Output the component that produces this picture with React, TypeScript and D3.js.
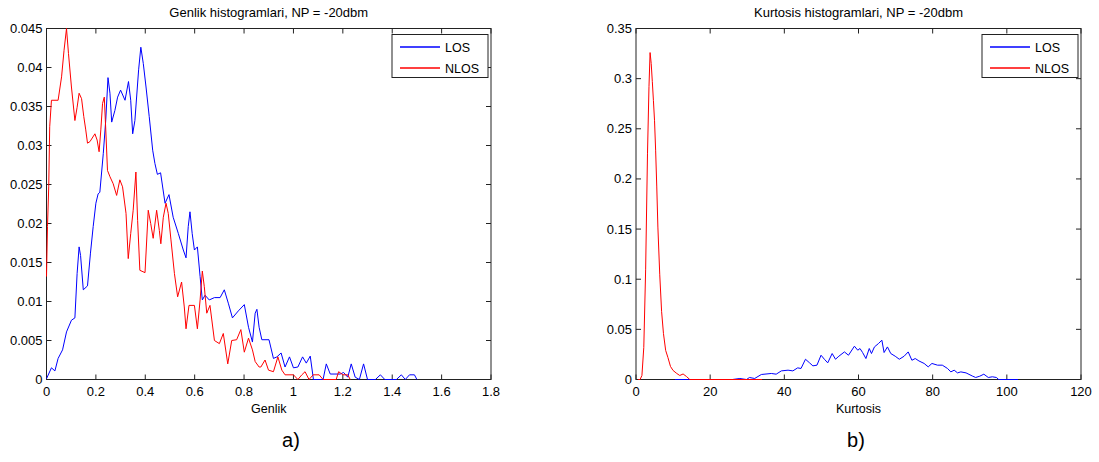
import React from "react";
import * as d3 from "d3";

// ---------- data ----------
const genlikLosX = [0,0.02,0.034,0.047,0.065,0.081,0.101,0.115,0.124,0.132,0.138,0.149,0.166,0.178,0.189,0.2,0.209,0.216,0.23,0.24,0.249,0.257,0.264,0.277,0.288,0.3,0.318,0.332,0.341,0.349,0.358,0.373,0.382,0.392,0.403,0.416,0.43,0.439,0.449,0.462,0.48,0.496,0.513,0.534,0.554,0.565,0.574,0.581,0.59,0.599,0.611,0.622,0.631,0.642,0.659,0.68,0.703,0.72,0.737,0.753,0.777,0.801,0.818,0.834,0.845,0.852,0.861,0.872,0.901,0.919,0.933,0.95,0.966,0.984,1.0,1.018,1.037,1.052,1.068,1.081,1.12,1.133,1.149,1.19,1.203,1.22,1.234,1.25,1.267,1.284,1.3,1.332,1.352,1.37,1.417,1.437,1.453,1.47,1.49,1.5];
const genlikLosY = [0.0001,0.0015,0.0011,0.0027,0.0038,0.0061,0.0076,0.0079,0.0136,0.017,0.0159,0.0115,0.012,0.0162,0.0196,0.0226,0.0238,0.024,0.029,0.0333,0.0387,0.0367,0.033,0.0345,0.0362,0.0371,0.0358,0.0382,0.0358,0.0315,0.0332,0.0397,0.0426,0.0405,0.0375,0.0337,0.0294,0.0277,0.0263,0.0265,0.0226,0.0237,0.0208,0.0187,0.0166,0.0156,0.0196,0.0215,0.0187,0.0166,0.017,0.0132,0.0102,0.0108,0.0102,0.0105,0.0105,0.0115,0.0097,0.0079,0.0088,0.0096,0.0067,0.0048,0.0085,0.009,0.0067,0.0051,0.0051,0.0027,0.0029,0.0034,0.0016,0.0029,0.0015,0.0016,0.0029,0.0021,0.003,0,0,0.002,0.0007,0.0007,0.0009,0.0003,0.002,0.0003,0,0.002,0,0,0.0006,0,0,0.0006,0,0.0006,0.0006,0];

const genlikNlosX = [0,0.004,0.009,0.013,0.02,0.047,0.061,0.071,0.081,0.089,0.101,0.115,0.124,0.132,0.142,0.151,0.159,0.166,0.176,0.196,0.205,0.213,0.22,0.227,0.234,0.24,0.247,0.257,0.27,0.284,0.297,0.308,0.322,0.331,0.341,0.351,0.362,0.369,0.378,0.399,0.412,0.422,0.432,0.446,0.457,0.463,0.473,0.484,0.493,0.504,0.518,0.531,0.547,0.558,0.565,0.577,0.599,0.611,0.622,0.631,0.639,0.649,0.662,0.68,0.7,0.716,0.734,0.75,0.77,0.787,0.801,0.818,0.834,0.845,0.861,0.868,0.885,0.899,0.919,0.937,0.953,0.966,1.0,1.018,1.034,1.047,1.063,1.08,1.104,1.12,1.173,1.183,1.2,1.22,1.23];
const genlikNlosY = [0.0132,0.0196,0.0247,0.0324,0.0358,0.0358,0.0388,0.0422,0.045,0.0418,0.0375,0.0332,0.0349,0.0367,0.036,0.0337,0.032,0.0303,0.0305,0.0315,0.0307,0.0292,0.032,0.0354,0.0362,0.032,0.0268,0.026,0.0251,0.0236,0.0256,0.0247,0.0213,0.0155,0.0187,0.0217,0.0266,0.0204,0.014,0.0137,0.0217,0.02,0.0181,0.0217,0.0191,0.0174,0.0208,0.0226,0.0213,0.0179,0.0136,0.0106,0.0125,0.0093,0.0065,0.0095,0.0095,0.0065,0.0102,0.0139,0.0119,0.0085,0.0095,0.005,0.0046,0.0059,0.002,0.005,0.0051,0.0064,0.0035,0.0053,0.0038,0.0023,0.0016,0.0016,0.0025,0.0012,0.001,0.0029,0.0012,0.0006,0.0006,0,0.0006,0.001,0,0.0006,0.0006,0,0,0.001,0.0006,0.0006,0];

const kurtLosX = [10.5,26,28,29.8,30.6,32,33.8,36.5,37.8,39.2,41,42.3,43.6,44.5,45.7,46.8,47.7,48.8,49.9,50.8,51.7,52.9,53.8,54.7,56.2,57.3,58.9,59.8,60.4,61.1,62,62.9,63.5,64.3,65.4,66.3,66.9,67.8,68.7,69.9,71,72.3,73.4,74.4,75.3,76.3,77.7,78.8,79.8,81.3,82.6,84,84.9,85.8,86.7,87.6,89,90.8,91.6,92.7,93.8,95,96.1,97.2,97.8,103];
const kurtLosY = [0,0,0.001,0,0.002,0.001,0.005,0.006,0.0053,0.0086,0.0093,0.0086,0.0116,0.011,0.0202,0.0166,0.0136,0.0143,0.0242,0.0202,0.0166,0.0259,0.0202,0.0232,0.0275,0.0242,0.0332,0.0292,0.0309,0.0269,0.0209,0.0309,0.0259,0.0325,0.0359,0.0392,0.0269,0.0325,0.0259,0.0232,0.0202,0.0232,0.0275,0.0192,0.0209,0.0185,0.016,0.0126,0.016,0.0143,0.0143,0.011,0.0076,0.0093,0.0066,0.0076,0.0066,0.0033,0.002,0.0033,0.0053,0.002,0.0027,0.002,0,0];

const kurtNlosX = [0.6,1.1,1.6,2.1,2.6,3.1,3.5,3.8,4.1,4.4,4.7,5.0,5.3,5.6,5.9,6.4,6.9,7.4,8.0,8.6,9.3,10,11,11.8,12.7,13.6,14.5,34];
const kurtNlosY = [0,0,0.004,0.032,0.11,0.225,0.292,0.326,0.315,0.297,0.278,0.258,0.228,0.192,0.152,0.105,0.068,0.046,0.029,0.022,0.013,0.009,0.006,0.004,0.0055,0.003,0,0];

const genlikXTicks = [0,0.2,0.4,0.6,0.8,1,1.2,1.4,1.6,1.8];
const genlikYTicks = [0,0.005,0.01,0.015,0.02,0.025,0.03,0.035,0.04,0.045];
const kurtXTicks = [0,20,40,60,80,100,120];
const kurtYTicks = [0,0.05,0.1,0.15,0.2,0.25,0.3,0.35];

const seriesNames = ["LOS", "NLOS"];
const seriesColors = ["#0000ff", "#ff0000"];

const fmt = (v: number) => String(+v.toFixed(4));

type PanelProps = {
  x0: number; x1: number; yTop: number; yBot: number;
  xDomain: [number, number]; yDomain: [number, number];
  xTicks: number[]; yTicks: number[];
  series: { xs: number[]; ys: number[]; color: string }[];
  title: string; xLabel: string; caption: string; captionX: number;
};

function Panel(p: PanelProps) {
  const xs = d3.scaleLinear().domain(p.xDomain).range([p.x0, p.x1]);
  const ys = d3.scaleLinear().domain(p.yDomain).range([p.yBot, p.yTop]);
  const line = d3.line<[number, number]>().x((d) => xs(d[0])).y((d) => ys(d[1]));
  const tl = 5;
  const cx = (p.x0 + p.x1) / 2;
  const lgX1 = p.x1 - 3;
  const lgX0 = lgX1 - 96;
  const lgY0 = p.yTop + 6;
  return (
    <g>
      <rect x={p.x0} y={p.yTop} width={p.x1 - p.x0} height={p.yBot - p.yTop} fill="none" stroke="#222" strokeWidth={1} />
      {p.xTicks.map((t, i) => (
        <g key={"x" + i}>
          <line x1={xs(t)} x2={xs(t)} y1={p.yBot} y2={p.yBot - tl} stroke="#222" />
          <line x1={xs(t)} x2={xs(t)} y1={p.yTop} y2={p.yTop + tl} stroke="#222" />
          <text x={xs(t)} y={p.yBot + 16} textAnchor="middle" fontSize={13}>{fmt(t)}</text>
        </g>
      ))}
      {p.yTicks.map((t, i) => (
        <g key={"y" + i}>
          <line x1={p.x0} x2={p.x0 + tl} y1={ys(t)} y2={ys(t)} stroke="#222" />
          <line x1={p.x1} x2={p.x1 - tl} y1={ys(t)} y2={ys(t)} stroke="#222" />
          <text x={p.x0 - 4} y={ys(t) + 4.5} textAnchor="end" fontSize={13}>{fmt(t)}</text>
        </g>
      ))}
      {p.series.map((s, i) => (
        <path key={i} d={line(s.xs.map((x, j) => [x, s.ys[j]] as [number, number])) || ""}
          fill="none" stroke={s.color} strokeWidth={1} />
      ))}
      <text x={cx} y={17} textAnchor="middle" fontSize={13}>{p.title}</text>
      <text x={cx} y={p.yBot + 33} textAnchor="middle" fontSize={12.5}>{p.xLabel}</text>
      <text x={p.captionX} y={447} textAnchor="middle" fontSize={20}>{p.caption}</text>
      <rect x={lgX0} y={lgY0} width={96} height={43} fill="#fff" stroke="#222" strokeWidth={1} />
      {seriesNames.map((n, i) => (
        <g key={n}>
          <line x1={lgX0 + 8} x2={lgX0 + 48} y1={lgY0 + 12.5 + i * 21} y2={lgY0 + 12.5 + i * 21} stroke={seriesColors[i]} strokeWidth={1.3} />
          <text x={lgX0 + 53} y={lgY0 + 17.5 + i * 21} fontSize={12.5}>{n}</text>
        </g>
      ))}
    </g>
  );
}

export default function App() {
  return (
    <svg width={1099} height={462} style={{ display: "block", position: "absolute", left: 0, top: 0, fontFamily: "'Liberation Sans', Arial, sans-serif" }}>
      <rect width={1099} height={462} fill="#fff" />
      <Panel x0={46.5} x1={491} yTop={28.5} yBot={379.5}
        xDomain={[0, 1.8]} yDomain={[0, 0.045]}
        xTicks={genlikXTicks} yTicks={genlikYTicks}
        series={[
          { xs: genlikLosX, ys: genlikLosY, color: seriesColors[0] },
          { xs: genlikNlosX, ys: genlikNlosY, color: seriesColors[1] },
        ]}
        title="Genlik histogramlari, NP = -20dbm" xLabel="Genlik" caption="a)" captionX={291} />
      <Panel x0={636} x1={1081} yTop={28.5} yBot={379.5}
        xDomain={[0, 120]} yDomain={[0, 0.35]}
        xTicks={kurtXTicks} yTicks={kurtYTicks}
        series={[
          { xs: kurtLosX, ys: kurtLosY, color: seriesColors[0] },
          { xs: kurtNlosX, ys: kurtNlosY, color: seriesColors[1] },
        ]}
        title="Kurtosis histogramlari, NP = -20dbm" xLabel="Kurtosis" caption="b)" captionX={856} />
    </svg>
  );
}
